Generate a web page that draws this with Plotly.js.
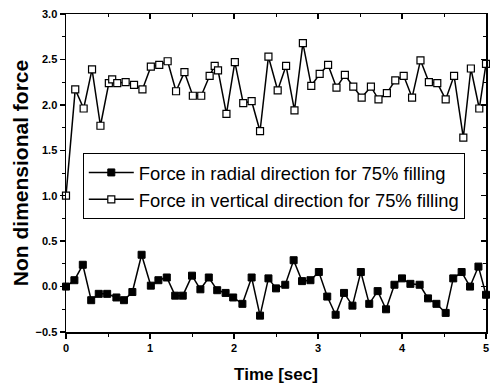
<!DOCTYPE html>
<html>
<head>
<meta charset="utf-8">
<script src="https://cdn.plot.ly/plotly-3.0.1.min.js"></script>
<style>html,body{margin:0;padding:0;background:#fff;}#chart{width:490px;height:387px;}</style>
</head>
<body>
<div id="chart"></div>
<script>
// Vertical force series (open squares)
var timeVertical = [0, 0.11, 0.21, 0.31, 0.41, 0.51, 0.55, 0.61, 0.71, 0.81, 0.91, 1.01, 1.11, 1.21, 1.31, 1.41, 1.51, 1.61, 1.71, 1.77, 1.81, 1.91, 2.01, 2.11, 2.21, 2.31, 2.41, 2.52, 2.62, 2.72, 2.82, 2.92, 3.02, 3.12, 3.22, 3.32, 3.42, 3.52, 3.63, 3.72, 3.82, 3.92, 4.02, 4.12, 4.22, 4.32, 4.42, 4.52, 4.62, 4.73, 4.82, 4.92, 5.0];
var forceVertical = [1.0, 2.17, 1.96, 2.39, 1.77, 2.24, 2.28, 2.24, 2.25, 2.22, 2.17, 2.42, 2.44, 2.48, 2.15, 2.36, 2.10, 2.10, 2.32, 2.43, 2.38, 1.90, 2.47, 2.02, 2.04, 1.71, 2.53, 2.16, 2.43, 1.94, 2.68, 2.21, 2.34, 2.44, 2.19, 2.33, 2.20, 2.08, 2.20, 2.06, 2.13, 2.27, 2.32, 2.08, 2.49, 2.25, 2.24, 2.06, 2.32, 1.64, 2.40, 1.96, 2.45];
// Radial force series (filled squares)
var timeRadial = [0, 0.1, 0.2, 0.3, 0.39, 0.49, 0.6, 0.69, 0.79, 0.9, 1.01, 1.1, 1.2, 1.3, 1.39, 1.5, 1.6, 1.7, 1.8, 1.9, 1.99, 2.1, 2.21, 2.31, 2.41, 2.5, 2.61, 2.71, 2.81, 2.91, 3.01, 3.11, 3.21, 3.31, 3.41, 3.51, 3.61, 3.71, 3.81, 3.91, 4.0, 4.1, 4.21, 4.31, 4.41, 4.52, 4.61, 4.71, 4.81, 4.91, 5.0];
var forceRadial = [0.0, 0.07, 0.24, -0.15, -0.08, -0.08, -0.12, -0.15, -0.06, 0.35, 0.01, 0.07, 0.10, -0.10, -0.10, 0.12, -0.03, 0.10, -0.04, -0.07, -0.12, -0.19, 0.10, -0.32, 0.09, -0.02, 0.02, 0.29, 0.06, 0.07, 0.16, -0.11, -0.31, -0.07, -0.21, 0.16, -0.19, -0.05, -0.25, 0.02, 0.09, 0.03, 0.02, -0.13, -0.19, -0.29, 0.09, 0.16, 0.00, 0.22, -0.09];

var seriesNames = ["Force in radial direction for 75% filling", "Force in vertical direction for 75% filling"];
var xTitle = "Time [sec]";
var yTitle = "Non dimensional force";
var xRange = [0, 5];
var yRange = [-0.5, 3.0];

var FONT = '"Liberation Sans", Arial, sans-serif';

var traces = [
  {x: timeRadial, y: forceRadial, name: seriesNames[0], mode: 'lines+markers',
   line: {color: '#000', width: 1.5},
   marker: {symbol: 'square', size: 7, color: '#000', line: {color: '#000', width: 1}},
   cliponaxis: false, legendgroup: 'a'},
  {x: timeVertical, y: forceVertical, name: seriesNames[1], mode: 'lines+markers',
   line: {color: '#000', width: 1.5},
   marker: {symbol: 'square', size: 7, color: '#fff', line: {color: '#000', width: 1.2}},
   cliponaxis: false, legendgroup: 'b'},
  {x: [xRange[0]], y: [yRange[0]], xaxis: 'x2', yaxis: 'y2', mode: 'markers',
   marker: {opacity: 0}, showlegend: false, hoverinfo: 'skip'}
];

var layout = {
  width: 490, height: 387,
  margin: {l: 66, r: 4, t: 14, b: 55},
  paper_bgcolor: '#fff', plot_bgcolor: '#fff',
  font: {family: FONT, color: '#000'},
  showlegend: true,
  legend: {
    x: 0.040, y: 0.563, xanchor: 'left', yanchor: 'top',
    bgcolor: '#fff', bordercolor: '#000', borderwidth: 1,
    font: {family: FONT, size: 18.4, color: '#000'},
    itemwidth: 45, tracegroupgap: 0, traceorder: 'normal'
  },
  xaxis: {
    range: xRange, dtick: 1, tick0: 0,
    showgrid: false, zeroline: false,
    showline: true, linecolor: '#000', linewidth: 1.5, mirror: true,
    ticks: 'outside', ticklen: 5, tickwidth: 1.5, tickcolor: '#000',
    minor: {dtick: 0.5, ticks: 'outside', ticklen: 3, tickwidth: 1, tickcolor: '#000', showgrid: false},
    tickfont: {family: FONT, size: 11, color: '#000', weight: 'bold'},
    title: {text: xTitle, font: {family: FONT, size: 17, color: '#000', weight: 'bold'}, standoff: 15}
  },
  yaxis: {
    range: yRange, dtick: 0.5, tick0: 0, tickformat: '.1f',
    showgrid: false, zeroline: false,
    showline: true, linecolor: '#000', linewidth: 1.5, mirror: true,
    ticks: 'outside', ticklen: 5, tickwidth: 1.5, tickcolor: '#000',
    minor: {dtick: 0.25, ticks: 'outside', ticklen: 3, tickwidth: 1, tickcolor: '#000', showgrid: false},
    tickfont: {family: FONT, size: 11, color: '#000', weight: 'bold'},
    title: {text: yTitle, font: {family: FONT, size: 21, color: '#000', weight: 'bold'}, standoff: 1}
  },
  xaxis2: {
    overlaying: 'x', side: 'top', anchor: 'y2', range: xRange, dtick: 1, tick0: 0,
    showgrid: false, zeroline: false, showline: false, showticklabels: false,
    ticks: 'inside', ticklen: 5, tickwidth: 1.5, tickcolor: '#000',
    minor: {dtick: 0.5, ticks: 'inside', ticklen: 3, tickwidth: 1, tickcolor: '#000', showgrid: false}
  },
  yaxis2: {
    overlaying: 'y', side: 'right', anchor: 'x2', range: yRange, dtick: 0.5, tick0: 0,
    showgrid: false, zeroline: false, showline: false, showticklabels: false,
    ticks: 'inside', ticklen: 5, tickwidth: 1.5, tickcolor: '#000',
    minor: {dtick: 0.25, ticks: 'inside', ticklen: 3, tickwidth: 1, tickcolor: '#000', showgrid: false}
  }
};

Plotly.newPlot('chart', traces, layout, {staticPlot: true, displayModeBar: false});
</script>
</body>
</html>
